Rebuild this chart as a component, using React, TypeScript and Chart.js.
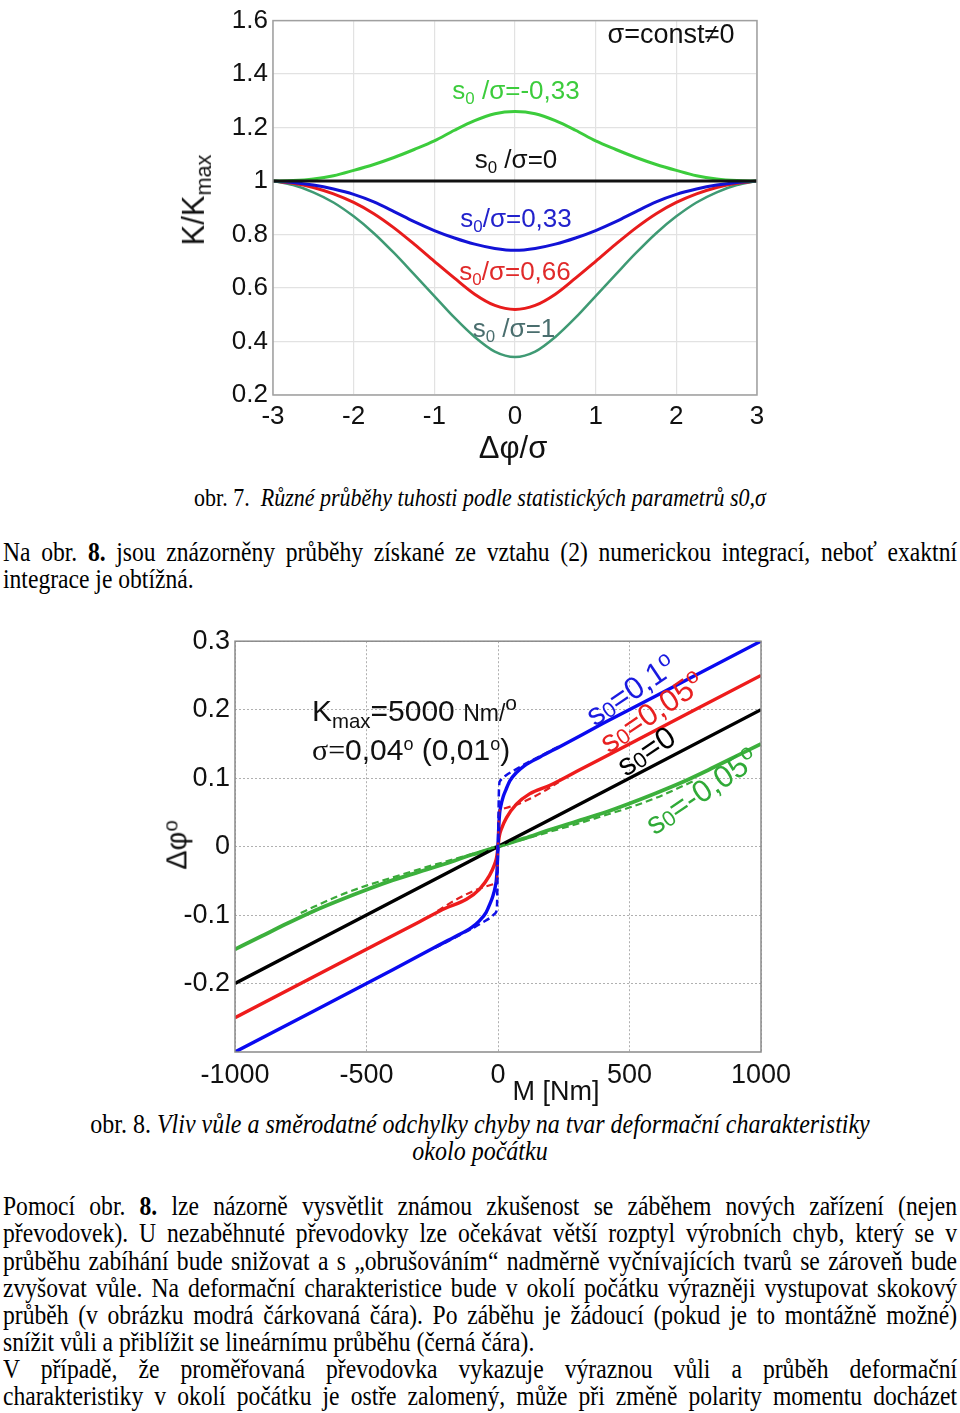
import React, { useEffect, useRef } from "react";
import { Chart, registerables } from "chart.js";
Chart.register(...registerables);

// ---------- Figure 7 (top) ----------
const topX = [-3, -2.75, -2.5, -2.25, -2, -1.75, -1.5, -1.25, -1, -0.75, -0.5, -0.25, 0, 0.25, 0.5, 0.75, 1, 1.25, 1.5, 1.75, 2, 2.25, 2.5, 2.75, 3];
const topGreen = [1.0, 1.002, 1.008, 1.02, 1.04, 1.062, 1.088, 1.118, 1.15, 1.19, 1.226, 1.252, 1.26, 1.252, 1.226, 1.19, 1.15, 1.118, 1.088, 1.062, 1.04, 1.02, 1.008, 1.002, 1.0];
const topBlack = [1, 1, 1, 1, 1, 1, 1, 1, 1, 1, 1, 1, 1, 1, 1, 1, 1, 1, 1, 1, 1, 1, 1, 1, 1];
const topBlue = [1.0, 0.995, 0.985, 0.97, 0.95, 0.922, 0.886, 0.848, 0.815, 0.787, 0.764, 0.748, 0.741, 0.748, 0.764, 0.787, 0.815, 0.848, 0.886, 0.922, 0.95, 0.97, 0.985, 0.995, 1.0];
const topRed = [1.0, 0.992, 0.976, 0.952, 0.92, 0.878, 0.825, 0.764, 0.7, 0.637, 0.577, 0.535, 0.52, 0.535, 0.577, 0.637, 0.7, 0.764, 0.825, 0.878, 0.92, 0.952, 0.976, 0.992, 1.0];
const topTeal = [1.0, 0.985, 0.958, 0.92, 0.868, 0.805, 0.731, 0.651, 0.57, 0.489, 0.417, 0.362, 0.342, 0.362, 0.417, 0.489, 0.57, 0.651, 0.731, 0.805, 0.868, 0.92, 0.958, 0.985, 1.0];
const topXTicks = [-3, -2, -1, 0, 1, 2, 3];
const topYTicks = [0.2, 0.4, 0.6, 0.8, 1, 1.2, 1.4, 1.6];

// ---------- Figure 8 (bottom) ----------
const blueM = [-1000, -700, -400, -240, -160, -100, -70, -45, -30, -20, -10, -6, -3, 0, 3, 6, 10, 20, 30, 45, 70, 100, 160, 240, 400, 700, 1000];
const blueV = [-0.3, -0.24, -0.18, -0.147, -0.131, -0.118, -0.108, -0.096, -0.083, -0.073, -0.058, -0.048, -0.03, 0, 0.03, 0.048, 0.058, 0.073, 0.083, 0.096, 0.108, 0.118, 0.131, 0.147, 0.18, 0.24, 0.3];
const blueDashM = [-240, -150, -100, -60, -30, -15, -8, -4, -2, 0, 2, 4, 8, 15, 30, 60, 100, 150, 240];
const blueDashV = [-0.148, -0.13, -0.12, -0.111, -0.104, -0.099, -0.096, -0.088, -0.05, 0, 0.05, 0.088, 0.096, 0.099, 0.104, 0.111, 0.12, 0.13, 0.148];
const redM = [-1000, -500, -300, -200, -120, -70, -32, -13, -6, -3, 0, 3, 6, 13, 32, 70, 120, 200, 300, 500, 1000];
const redV = [-0.25, -0.15, -0.11, -0.09, -0.077, -0.062, -0.042, -0.026, -0.017, -0.01, 0, 0.01, 0.017, 0.026, 0.042, 0.062, 0.077, 0.09, 0.11, 0.15, 0.25];
const redDashM = [-230, -171, -95, -44, -10, -4, -2, 0, 2, 4, 10, 44, 95, 171, 230];
const redDashV = [-0.094, -0.08, -0.065, -0.058, -0.054, -0.05, -0.03, 0, 0.03, 0.05, 0.054, 0.058, 0.065, 0.08, 0.094];
const blackM = [-1000, 0, 1000];
const blackV = [-0.2, 0, 0.2];
const greenM = [-1000, -900, -800, -700, -600, -500, -400, -300, -200, -100, 0, 100, 200, 300, 400, 500, 600, 700, 800, 900, 1000];
const greenV = [-0.15, -0.131, -0.112, -0.094, -0.078, -0.063, -0.049, -0.037, -0.025, -0.012, 0, 0.012, 0.025, 0.037, 0.049, 0.063, 0.078, 0.094, 0.112, 0.131, 0.15];
const greenDashM = [-750, -700, -600, -500, -400, -300, -200, -100, 0, 100, 200, 300, 400, 500, 600, 700, 750];
const greenDashV = [-0.097, -0.088, -0.071, -0.057, -0.045, -0.033, -0.022, -0.011, 0, 0.011, 0.022, 0.033, 0.045, 0.057, 0.071, 0.088, 0.097];
const botXTicks = [-1000, -500, 0, 500, 1000];
const botYTicks = [-0.2, -0.1, 0, 0.1, 0.2, 0.3];

const SANS = "'Liberation Sans', Arial, sans-serif";
const SERIF = "'Liberation Serif', 'Times New Roman', serif";

const pts = (xs: number[], ys: number[]) => xs.map((x, i) => ({ x, y: ys[i] }));

const boxPlugin = (color: string, width: number) => ({
  id: "box",
  afterDatasetsDraw(chart: any) {
    const { ctx, chartArea } = chart;
    ctx.save();
    ctx.strokeStyle = color;
    ctx.lineWidth = width;
    ctx.strokeRect(chartArea.left, chartArea.top, chartArea.right - chartArea.left, chartArea.bottom - chartArea.top);
    ctx.restore();
  },
});

function TopChart() {
  const ref = useRef<HTMLCanvasElement>(null);
  useEffect(() => {
    const line = (data: number[], color: string, width: number) => ({
      data: pts(topX, data),
      borderColor: color,
      borderWidth: width,
      pointRadius: 0,
      showLine: true,
      fill: false,
      cubicInterpolationMode: "monotone" as const,
    });
    const chart = new Chart(ref.current!, {
      type: "scatter",
      data: {
        datasets: [
          line(topBlack, "#111111", 3),
          line(topGreen, "#3ccc3c", 3),
          line(topBlue, "#1212d6", 3),
          line(topRed, "#e81c1c", 3),
          line(topTeal, "#3f9a74", 2.5),
        ],
      },
      options: {
        animation: false,
        responsive: false,
        maintainAspectRatio: false,
        layout: { padding: { top: 15, right: 23, left: 0, bottom: 0 } },
        plugins: { legend: { display: false }, tooltip: { enabled: false } },
        scales: {
          x: {
            type: "linear",
            min: -3,
            max: 3,
            afterBuildTicks: (s: any) => { s.ticks = topXTicks.map((v) => ({ value: v })); },
            afterFit: (s: any) => { s.height = 75; },
            grid: { color: "#e2e2e2", drawTicks: false, lineWidth: 1.2 },
            border: { display: false },
            ticks: { padding: 6, autoSkip: false, maxRotation: 0, color: "#111", font: { family: SANS, size: 26 }, callback: (v: any) => String(v) },
          },
          y: {
            type: "linear",
            min: 0.2,
            max: 1.6,
            afterBuildTicks: (s: any) => { s.ticks = topYTicks.map((v) => ({ value: v })); },
            afterFit: (s: any) => { s.width = 103; },
            grid: { color: "#e2e2e2", drawTicks: false, lineWidth: 1.2 },
            border: { display: false },
            ticks: { padding: 5, autoSkip: false, color: "#111", font: { family: SANS, size: 26 }, callback: (v: any) => String(v) },
          },
        },
      },
      plugins: [boxPlugin("#a0a0a0", 1.5)],
    } as any);
    return () => chart.destroy();
  }, []);
  return <canvas ref={ref} width={610} height={470} style={{ position: "absolute", left: 170, top: 0, width: 610, height: 470 }} />;
}

function BottomChart() {
  const ref = useRef<HTMLCanvasElement>(null);
  useEffect(() => {
    const line = (xs: number[], ys: number[], color: string, width: number, dash: number[] = []) => ({
      data: pts(xs, ys),
      borderColor: color,
      borderWidth: width,
      borderDash: dash,
      pointRadius: 0,
      showLine: true,
      fill: false,
      cubicInterpolationMode: "monotone" as const,
    });
    const chart = new Chart(ref.current!, {
      type: "scatter",
      data: {
        datasets: [
          line(blueDashM, blueDashV, "#1010e6", 2.5, [7, 4]),
          line(redDashM, redDashV, "#e02020", 2.2, [7, 4]),
          line(greenDashM, greenDashV, "#3aaa3a", 2.2, [7, 4]),
          line(blueM, blueV, "#0a0af0", 3.4),
          line(redM, redV, "#ee1c1c", 3.4),
          line(blackM, blackV, "#000000", 3.4),
          line(greenM, greenV, "#3cb03c", 3.8),
        ],
      },
      options: {
        animation: false,
        responsive: false,
        maintainAspectRatio: false,
        layout: { padding: { top: 18, right: 39, left: 0, bottom: 0 } },
        plugins: { legend: { display: false }, tooltip: { enabled: false } },
        scales: {
          x: {
            type: "linear",
            min: -1000,
            max: 1000,
            afterBuildTicks: (s: any) => { s.ticks = botXTicks.map((v) => ({ value: v })); },
            afterFit: (s: any) => { s.height = 48; },
            grid: { color: "#b0b0b0", drawTicks: false, lineWidth: 1 },
            border: { display: false, dash: [2, 2] },
            ticks: { padding: 7, autoSkip: false, maxRotation: 0, color: "#111", font: { family: SANS, size: 27 }, callback: (v: any) => String(v) },
          },
          y: {
            type: "linear",
            min: -0.3,
            max: 0.3,
            afterBuildTicks: (s: any) => { s.ticks = botYTicks.map((v) => ({ value: v })); },
            afterFit: (s: any) => { s.width = 75; },
            grid: { color: "#b0b0b0", drawTicks: false, lineWidth: 1 },
            border: { display: false, dash: [2, 2] },
            ticks: { padding: 5, autoSkip: false, color: "#111", font: { family: SANS, size: 27 }, callback: (v: any) => String(v) },
          },
        },
      },
      plugins: [boxPlugin("#8a8a8a", 1.5)],
    } as any);
    return () => chart.destroy();
  }, []);
  return <canvas ref={ref} width={640} height={480} style={{ position: "absolute", left: 160, top: 620, width: 640, height: 480 }} />;
}

const Sub = ({ children, size = 0.65, shift = -0.3 }: any) => (
  <span style={{ fontSize: `${size}em`, verticalAlign: `${shift}em` }}>{children}</span>
);
const Sup = ({ children, size = 0.7, shift = 0.55 }: any) => (
  <span style={{ fontSize: `${size}em`, verticalAlign: `${shift}em` }}>{children}</span>
);

const Lbl = ({ x, y, size, color = "#111", rot = 0, font = SANS, children, anchor = "center" }: any) => (
  <div
    style={{
      position: "absolute",
      left: x,
      top: y,
      transform: `translate(${anchor === "left" ? "0" : "-50%"}, -50%) rotate(${rot}deg)`,
      fontFamily: font,
      fontSize: size,
      color,
      whiteSpace: "nowrap",
      lineHeight: 1,
    }}
  >
    {children}
  </div>
);

const Line = ({ y, children, justify = true, center = false, size = 23.6 }: any) => (
  <div
    style={{
      position: "absolute",
      left: 3,
      width: 954,
      top: y - 14,
      height: 28,
      lineHeight: "28px",
      fontFamily: SERIF,
      fontSize: size,
      color: "#000",
      whiteSpace: "nowrap",
      transform: "scaleY(1.14)",
      transformOrigin: "50% 50%",
      textAlign: center ? "center" : justify ? "justify" : "left",
      textAlignLast: center ? "center" : justify ? "justify" : "left",
    } as any}
  >
    {children}
  </div>
);

export default function App() {
  return (
    <div style={{ position: "absolute", left: 0, top: 0, width: 960, height: 1413, background: "#fff", overflow: "hidden" }}>
      <TopChart />
      {/* Top chart texts */}
      <Lbl x={671} y={34} size={27}>σ=const≠0</Lbl>
      <Lbl x={516} y={92} size={26} color="#3ccc3c">s<Sub>0</Sub> /σ=-0,33</Lbl>
      <Lbl x={516} y={161} size={26} color="#111">s<Sub>0</Sub> /σ=0</Lbl>
      <Lbl x={516} y={220} size={26} color="#2222cc">s<Sub>0</Sub>/σ=0,33</Lbl>
      <Lbl x={515} y={273} size={26} color="#e02a2a">s<Sub>0</Sub>/σ=0,66</Lbl>
      <Lbl x={514} y={330} size={26} color="#4a6e6e">s<Sub>0</Sub> /σ=1</Lbl>
      <Lbl x={513} y={447} size={31}>Δφ/σ</Lbl>
      <Lbl x={196} y={200} size={31} rot={-90}>K/K<Sub size={0.7} shift={-0.3}>max</Sub></Lbl>

      <Line y={498} center size={22}>
        obr. 7.&nbsp; <i>Různé průběhy tuhosti podle statistických parametrů s0,σ</i>
      </Line>
      <Line y={552}>Na obr. <b>8.</b> jsou znázorněny průběhy získané ze vztahu (2) numerickou integrací, neboť exaktní</Line>
      <Line y={579} justify={false}>integrace je obtížná.</Line>

      <BottomChart />
      {/* Bottom chart texts */}
      <Lbl x={312} y={712} size={30} anchor="left">K<Sub size={0.68} shift={-0.35}>max</Sub>=5000 <span style={{ fontSize: 23 }}>Nm/</span><Sup size={0.7} shift={0.5}>o</Sup></Lbl>
      <Lbl x={312} y={750} size={30} anchor="left"><span style={{ fontFamily: SERIF }}>σ=</span>0,04<Sup size={0.6} shift={0.6}>o</Sup> (0,01<Sup size={0.6} shift={0.6}>o</Sup>)</Lbl>
      <Lbl x={630} y={689} size={31} rot={-34} color="#1a1ae0">s<Sub size={0.7} shift={-0.05}>0</Sub>=0,1<Sup size={0.7} shift={0.5}>o</Sup></Lbl>
      <Lbl x={651} y={711} size={31} rot={-34} color="#e82020">s<Sub size={0.7} shift={-0.05}>0</Sub>=0,05<Sup size={0.7} shift={0.5}>o</Sup></Lbl>
      <Lbl x={646} y={751} size={31} rot={-34} color="#000">s<Sub size={0.7} shift={-0.05}>0</Sub>=0</Lbl>
      <Lbl x={701} y={790} size={31} rot={-34} color="#30aa38">s<Sub size={0.7} shift={-0.05}>0</Sub>=-0,05<Sup size={0.7} shift={0.5}>o</Sup></Lbl>
      <Lbl x={176} y={845} size={29} rot={-90}>Δφ<Sup size={0.7} shift={0.45}>o</Sup></Lbl>
      <Lbl x={556} y={1091} size={27}>M [Nm]</Lbl>

      <Line y={1124} center size={24}>
        obr. 8. <i>Vliv vůle a směrodatné odchylky chyby na tvar deformační charakteristiky</i>
      </Line>
      <Line y={1151} center size={24}><i>okolo počátku</i></Line>

      <Line y={1206}>Pomocí obr. <b>8.</b> lze názorně vysvětlit známou zkušenost se záběhem nových zařízení (nejen</Line>
      <Line y={1233}>převodovek). U nezaběhnuté převodovky lze očekávat větší rozptyl výrobních chyb, který se v</Line>
      <Line y={1261}>průběhu zabíhání bude snižovat a s „obrušováním“ nadměrně vyčnívajících tvarů se zároveň bude</Line>
      <Line y={1288}>zvyšovat vůle. Na deformační charakteristice bude v okolí počátku výrazněji vystupovat skokový</Line>
      <Line y={1315}>průběh (v obrázku modrá čárkovaná čára). Po záběhu je žádoucí (pokud je to montážně možné)</Line>
      <Line y={1342} justify={false}>snížit vůli a přiblížit se lineárnímu průběhu (černá čára).</Line>
      <Line y={1369}>V případě, že proměřovaná převodovka vykazuje výraznou vůli a průběh deformační</Line>
      <Line y={1396}>charakteristiky v okolí počátku je ostře zalomený, může při změně polarity momentu docházet</Line>
    </div>
  );
}
